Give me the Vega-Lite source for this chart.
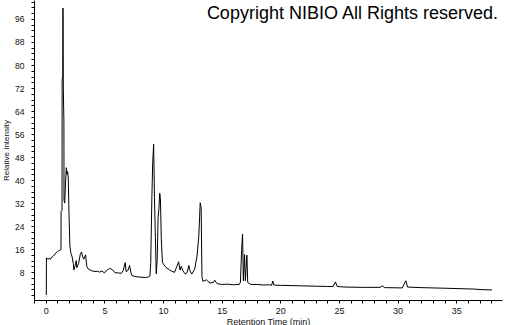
{
  "$schema": "https://vega.github.io/schema/vega-lite/v6.json",
  "width": 468,
  "height": 300,
  "autosize": "none",
  "padding": {"left": 34, "top": 0, "right": 3, "bottom": 25},
  "background": "white",
  "title": {
    "text": "Copyright NIBIO All Rights reserved.",
    "anchor": "end",
    "frame": "group",
    "orient": "top",
    "baseline": "alphabetic",
    "offset": -39,
    "dx": -4,
    "font": "Liberation Sans",
    "fontSize": 18,
    "fontWeight": "normal",
    "color": "#000000"
  },
  "config": {
    "view": {"stroke": null},
    "axis": {
      "domainColor": "#000000",
      "tickColor": "#000000",
      "labelColor": "#111111",
      "titleColor": "#111111",
      "labelFont": "Liberation Sans",
      "titleFont": "Liberation Sans",
      "grid": false
    }
  },
  "data": {
    "values": [
      {"t": 0.05, "v": 0}, {"t": 0.06, "v": 12.9}, {"t": 0.2, "v": 12.5}, {"t": 0.3, "v": 12.8},
      {"t": 0.4, "v": 12.4}, {"t": 0.5, "v": 13.2}, {"t": 0.6, "v": 13.4}, {"t": 0.7, "v": 13.9},
      {"t": 0.8, "v": 14.2}, {"t": 0.9, "v": 14.8}, {"t": 1.0, "v": 15.2}, {"t": 1.1, "v": 15.4},
      {"t": 1.2, "v": 15.6}, {"t": 1.3, "v": 15.8}, {"t": 1.31, "v": 29}, {"t": 1.39, "v": 29.5},
      {"t": 1.4, "v": 75}, {"t": 1.45, "v": 76}, {"t": 1.47, "v": 99.8}, {"t": 1.5, "v": 72},
      {"t": 1.55, "v": 60}, {"t": 1.56, "v": 33}, {"t": 1.62, "v": 32}, {"t": 1.7, "v": 40},
      {"t": 1.76, "v": 44.3}, {"t": 1.8, "v": 42}, {"t": 1.86, "v": 43}, {"t": 1.92, "v": 41},
      {"t": 1.98, "v": 29}, {"t": 2.06, "v": 17}, {"t": 2.15, "v": 14.5}, {"t": 2.25, "v": 13.3},
      {"t": 2.35, "v": 11}, {"t": 2.4, "v": 8.7}, {"t": 2.5, "v": 10.2}, {"t": 2.6, "v": 12},
      {"t": 2.65, "v": 9.5}, {"t": 2.8, "v": 11}, {"t": 2.95, "v": 14.2}, {"t": 3.05, "v": 15},
      {"t": 3.15, "v": 13.3}, {"t": 3.25, "v": 12.5}, {"t": 3.4, "v": 14}, {"t": 3.5, "v": 10},
      {"t": 3.65, "v": 9}, {"t": 3.9, "v": 8.5}, {"t": 4.2, "v": 8.2}, {"t": 4.4, "v": 8.3},
      {"t": 4.6, "v": 8.0}, {"t": 4.8, "v": 8.4}, {"t": 5.0, "v": 7.7}, {"t": 5.2, "v": 8.6},
      {"t": 5.45, "v": 9.3}, {"t": 5.7, "v": 8.8}, {"t": 5.9, "v": 7.8}, {"t": 6.2, "v": 7.7},
      {"t": 6.45, "v": 7.6}, {"t": 6.6, "v": 8.5}, {"t": 6.78, "v": 11.3}, {"t": 6.85, "v": 8.2},
      {"t": 7.0, "v": 8.5}, {"t": 7.15, "v": 10.3}, {"t": 7.25, "v": 8}, {"t": 7.35, "v": 6.8},
      {"t": 7.6, "v": 6.5}, {"t": 7.9, "v": 6.3}, {"t": 8.2, "v": 6.2}, {"t": 8.5, "v": 6.1},
      {"t": 8.75, "v": 6.3}, {"t": 8.88, "v": 6.6}, {"t": 8.95, "v": 11}, {"t": 9.05, "v": 34},
      {"t": 9.12, "v": 46}, {"t": 9.2, "v": 52.5}, {"t": 9.27, "v": 34}, {"t": 9.35, "v": 20},
      {"t": 9.42, "v": 7.4}, {"t": 9.5, "v": 12}, {"t": 9.58, "v": 27}, {"t": 9.65, "v": 30},
      {"t": 9.72, "v": 35.4}, {"t": 9.78, "v": 33.5}, {"t": 9.85, "v": 20}, {"t": 9.95, "v": 11.3},
      {"t": 10.25, "v": 9.6}, {"t": 10.55, "v": 8.8}, {"t": 10.7, "v": 8.4}, {"t": 10.98, "v": 7.9},
      {"t": 11.18, "v": 10}, {"t": 11.33, "v": 11.6}, {"t": 11.45, "v": 8.7}, {"t": 11.55, "v": 10},
      {"t": 11.7, "v": 8.4}, {"t": 11.9, "v": 7.3}, {"t": 12.05, "v": 7.8}, {"t": 12.2, "v": 10.3},
      {"t": 12.3, "v": 8.4}, {"t": 12.45, "v": 7.3}, {"t": 12.7, "v": 9}, {"t": 12.9, "v": 13.6},
      {"t": 13.05, "v": 20.5}, {"t": 13.17, "v": 32.1}, {"t": 13.25, "v": 30.5}, {"t": 13.32, "v": 6.4},
      {"t": 13.4, "v": 4.8}, {"t": 13.7, "v": 5.3}, {"t": 14.0, "v": 4.2}, {"t": 14.3, "v": 4.4},
      {"t": 14.4, "v": 5.2}, {"t": 14.6, "v": 4.0}, {"t": 15.0, "v": 3.7}, {"t": 15.5, "v": 3.8},
      {"t": 16.0, "v": 3.6}, {"t": 16.5, "v": 3.7}, {"t": 16.6, "v": 4.5}, {"t": 16.7, "v": 15.6},
      {"t": 16.78, "v": 21.2}, {"t": 16.85, "v": 5}, {"t": 16.95, "v": 14.1}, {"t": 17.02, "v": 5},
      {"t": 17.15, "v": 13.9}, {"t": 17.22, "v": 4.4}, {"t": 17.5, "v": 3.7}, {"t": 18.0, "v": 3.7},
      {"t": 18.6, "v": 3.5}, {"t": 19.0, "v": 3.6}, {"t": 19.25, "v": 3.4}, {"t": 19.36, "v": 4.9},
      {"t": 19.45, "v": 3.5}, {"t": 20, "v": 3.4}, {"t": 21, "v": 3.3}, {"t": 22, "v": 3.2},
      {"t": 23, "v": 3.1}, {"t": 24, "v": 3.0}, {"t": 24.5, "v": 3.0}, {"t": 24.7, "v": 4.6},
      {"t": 24.85, "v": 3.0}, {"t": 25.5, "v": 2.8}, {"t": 27, "v": 2.7}, {"t": 28.5, "v": 2.7},
      {"t": 28.7, "v": 3.2}, {"t": 28.9, "v": 2.6}, {"t": 30.4, "v": 2.5}, {"t": 30.7, "v": 5.0},
      {"t": 30.85, "v": 2.8}, {"t": 32, "v": 2.6}, {"t": 34, "v": 2.4}, {"t": 36.5, "v": 2.1},
      {"t": 37.2, "v": 1.9}, {"t": 38.05, "v": 1.8}
    ]
  },
  "mark": {"type": "line", "color": "#000000", "strokeWidth": 1, "interpolate": "linear"},
  "encoding": {
    "x": {
      "field": "t",
      "type": "quantitative",
      "scale": {"domain": [-1, 38.9], "nice": false, "zero": false},
      "axis": {
        "title": "Retention Time (min)",
        "titleFontSize": 9,
        "titleFontWeight": "normal",
        "titlePadding": 2,
        "values": [-1,0,1,2,3,4,5,6,7,8,9,10,11,12,13,14,15,16,17,18,19,20,21,22,23,24,25,26,27,28,29,30,31,32,33,34,35,36,37,38],
        "labelExpr": "datum.value % 5 === 0 && datum.value >= 0 ? datum.label : ''",
        "labelFontSize": 9,
        "labelPadding": 3,
        "tickSize": 3,
        "labelFlush": false,
        "labelOverlap": false
      }
    },
    "y": {
      "field": "v",
      "type": "quantitative",
      "scale": {"domain": [-1.7, 102.6], "nice": false, "zero": false},
      "axis": {
        "title": "Relative Intensity",
        "titleFontSize": 8,
        "titleFontWeight": "normal",
        "titlePadding": 4,
        "values": [0,2,4,6,8,10,12,14,16,18,20,22,24,26,28,30,32,34,36,38,40,42,44,46,48,50,52,54,56,58,60,62,64,66,68,70,72,74,76,78,80,82,84,86,88,90,92,94,96,98,100,102],
        "labelExpr": "datum.value % 8 === 0 && datum.value > 0 ? datum.label : ''",
        "labelFontSize": 8.5,
        "labelPadding": 7,
        "tickSize": 3,
        "labelFlush": false,
        "labelOverlap": false
      }
    }
  }
}
